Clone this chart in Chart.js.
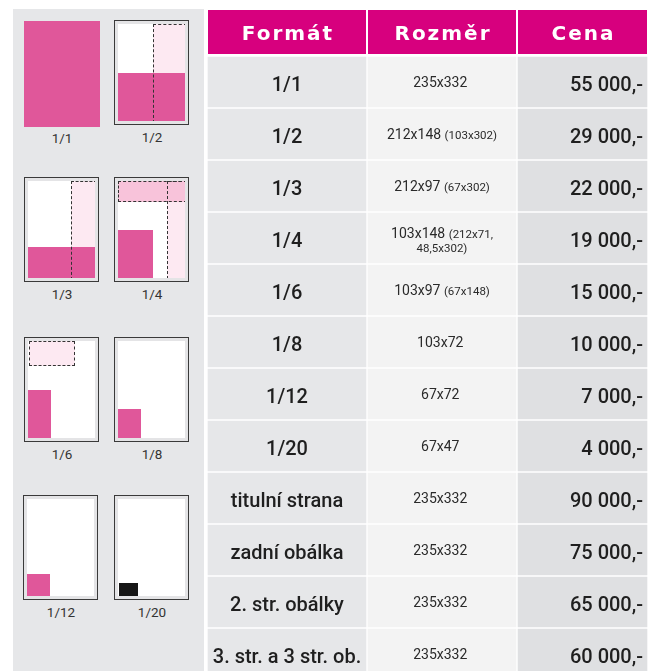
<!DOCTYPE html>
<html>
<head>
<meta charset="utf-8">
<script src="https://cdn.jsdelivr.net/npm/chart.js@4.4.1/dist/chart.umd.min.js"></script>
<style>
  html, body { margin: 0; padding: 0; background: #fff; overflow: hidden; }
  body { width: 648px; height: 671px; position: relative; font-family: Roboto, sans-serif; }
  #panel { position: absolute; left: 13px; top: 9px; width: 191px; height: 680px; background: #e6e7e9; }
  #tableWrap { position: absolute; left: 0; top: 0; width: 648px; height: 680px; }
  .frame { position: absolute; width: 75px; height: 105px; border: 1px solid #3a3a3a; background: #e4e4e6; box-sizing: border-box; }
  .page { position: absolute; left: 3px; top: 3px; right: 3px; bottom: 3px; background: #fff; overflow: hidden; }
  .page div { position: absolute; box-sizing: border-box; }
  .pink { background: #e0579a; }
  .light { background: #fde9f2; }
  .mid { background: #f8c3da; }
  .dash { border: 1px dashed #333; }
  .lbl { position: absolute; width: 60px; text-align: center; font-size: 13.5px; color: #333; }
</style>
</head>
<body>
<div id="panel"></div>
<div id="icons"></div>
<div id="tableWrap"><canvas id="priceTable"></canvas></div>
<script>
// table data
const formats = ['1/1', '1/2', '1/3', '1/4', '1/6', '1/8', '1/12', '1/20',
    'titulní strana', 'zadní obálka', '2. str. obálky', '3. str. a 3 str. ob.'];
const sizes = ['235x332', '212x148', '212x97', '103x148', '103x97', '103x72', '67x72', '67x47',
    '235x332', '235x332', '235x332', '235x332'];
const sizeNotes = ['', '(103x302)', '(67x302)', '(212x71,\n48,5x302)', '(67x148)', '', '', '',
    '', '', '', ''];
const prices = [55000, 29000, 22000, 19000, 15000, 10000, 7000, 4000, 90000, 75000, 65000, 60000];
const headers = ['Formát', 'Rozměr', 'Cena'];

// column widths (layout only)
const colWidths = [160, 150, 131];
const colColors = ['#e6e7e9', '#f3f3f3', '#dfe0e2'];

function formatPrice(v) {
    return String(v).replace(/\B(?=(\d{3})+(?!\d))/g, ' ') + ',-';
}

// left side: page layout icons
const icons = [
    { label: '1/1', x: 24, y: 21, plain: true },
    { label: '1/2', x: 114, y: 20, parts: [
        ['light', 35, 0, 34, 99], ['pink', 0, 49, 69, 50], ['dash', 35, 0, 34, 99]] },
    { label: '1/3', x: 24, y: 177, parts: [
        ['light', 43, 0, 26, 99], ['pink', 0, 66, 69, 33], ['dash', 43, 0, 26, 99]] },
    { label: '1/4', x: 114, y: 177, parts: [
        ['light', 49, 0, 20, 98], ['mid', 0, 0, 69, 21], ['pink', 0, 49, 35, 50],
        ['dash', 0, 0, 69, 21], ['dash', 49, 0, 20, 98]] },
    { label: '1/6', x: 24, y: 337, parts: [
        ['light dash', 1, 0, 46, 25], ['pink', 0, 49, 23, 50]] },
    { label: '1/8', x: 114, y: 337, parts: [['pink', 0, 68, 23, 31]] },
    { label: '1/12', x: 23, y: 495, parts: [['pink', 0, 75, 23, 24]] },
    { label: '1/20', x: 114, y: 495, parts: [['', 1, 84, 19, 15]] }
];

const iconBox = document.getElementById('icons');
icons.forEach(function (ic) {
    let html;
    if (ic.plain) {
        html = '<div class="pink" style="position:absolute;left:' + ic.x + 'px;top:' + ic.y + 'px;width:76px;height:106px"></div>';
    } else {
        let inner = ic.parts.map(function (p) {
            let bg = p[0] === '' ? 'background:#161616;' : '';
            return '<div class="' + p[0] + '" style="' + bg + 'left:' + p[1] + 'px;top:' + p[2] + 'px;width:' + p[3] + 'px;height:' + p[4] + 'px"></div>';
        }).join('');
        html = '<div class="frame" style="left:' + ic.x + 'px;top:' + ic.y + 'px"><div class="page">' + inner + '</div></div>';
    }
    html += '<div class="lbl" style="left:' + (ic.x + 38 - 30) + 'px;top:' + (ic.y + 109) + 'px">' + ic.label + '</div>';
    iconBox.insertAdjacentHTML('beforeend', html);
});

// text + header drawing
const tableText = {
    id: 'tableText',
    afterDatasetsDraw(chart) {
        const ctx = chart.ctx;
        const xs = chart.scales.x;
        const ys = chart.scales.y;
        const top = chart.chartArea.top;
        let edges = [0];
        colWidths.forEach(function (w, i) { edges.push(edges[i] + w); });

        ctx.save();
        // header
        headers.forEach(function (h, i) {
            const x0 = xs.getPixelForValue(edges[i]) + 1;
            const x1 = xs.getPixelForValue(edges[i + 1]) - 1;
            ctx.fillStyle = '#d7007e';
            ctx.fillRect(x0, top - 46, x1 - x0, 44);
            ctx.fillStyle = '#fff';
            ctx.font = 'bold 20px "DejaVu Sans"';
            ctx.letterSpacing = '2px';
            ctx.textAlign = 'center';
            ctx.textBaseline = 'middle';
            ctx.fillText(h, (x0 + x1) / 2 + 1, top - 21);
        });
        ctx.letterSpacing = '0px';

        formats.forEach(function (f, i) {
            const y = ys.getPixelForValue(i) + 3;
            const c1 = xs.getPixelForValue(edges[0] + colWidths[0] / 2);
            const c2 = xs.getPixelForValue(edges[1] + colWidths[1] / 2);
            const r3 = xs.getPixelForValue(edges[3]) - 5;

            ctx.fillStyle = '#1f1f1f';
            ctx.textBaseline = 'middle';
            ctx.textAlign = 'center';
            ctx.font = '500 20px Roboto';
            ctx.fillText(f, c1, y + 1);

            ctx.textAlign = 'right';
            ctx.fillText(formatPrice(prices[i]), r3, y + 1);

            // size column
            ctx.fillStyle = '#2a2a2a';
            const noteLines = sizeNotes[i] ? sizeNotes[i].split('\n') : [];
            const main = sizes[i];
            ctx.font = '14px Roboto';
            const wMain = ctx.measureText(main + ' ').width;
            ctx.font = '11.5px Roboto';
            const wNote = noteLines.length ? ctx.measureText(noteLines[0]).width : 0;
            const lineY = noteLines.length > 1 ? y - 7 : y - 2;
            let x = c2 - (wMain + wNote) / 2;
            ctx.textAlign = 'left';
            ctx.font = '14px Roboto';
            ctx.fillText(main, x, lineY);
            if (noteLines.length) {
                ctx.font = '11.5px Roboto';
                ctx.fillText(noteLines[0], x + wMain, lineY + 1);
                ctx.textAlign = 'center';
                for (let k = 1; k < noteLines.length; k++) {
                    ctx.fillText(noteLines[k], c2, lineY + 1 + k * 14);
                }
            }
        });
        ctx.restore();
    }
};

const datasets = colWidths.map(function (w, i) {
    return {
        label: headers[i],
        data: formats.map(function () { return w; }),
        backgroundColor: colColors[i],
        borderColor: '#ffffff',
        borderWidth: 1,
        borderSkipped: false,
        barPercentage: 1,
        categoryPercentage: 1
    };
});

new Chart(document.getElementById('priceTable'), {
    type: 'bar',
    data: { labels: formats, datasets: datasets },
    options: {
        indexAxis: 'y',
        responsive: true,
        maintainAspectRatio: false,
        animation: false,
        layout: { padding: { left: 207, top: 56, right: 0, bottom: 0 } },
        plugins: { legend: { display: false }, tooltip: { enabled: false } },
        events: [],
        scales: {
            x: { stacked: true, display: false, min: 0, max: colWidths.reduce(function (a, b) { return a + b; }, 0) },
            y: { stacked: true, display: false }
        }
    },
    plugins: [tableText]
});
</script>
</body>
</html>
